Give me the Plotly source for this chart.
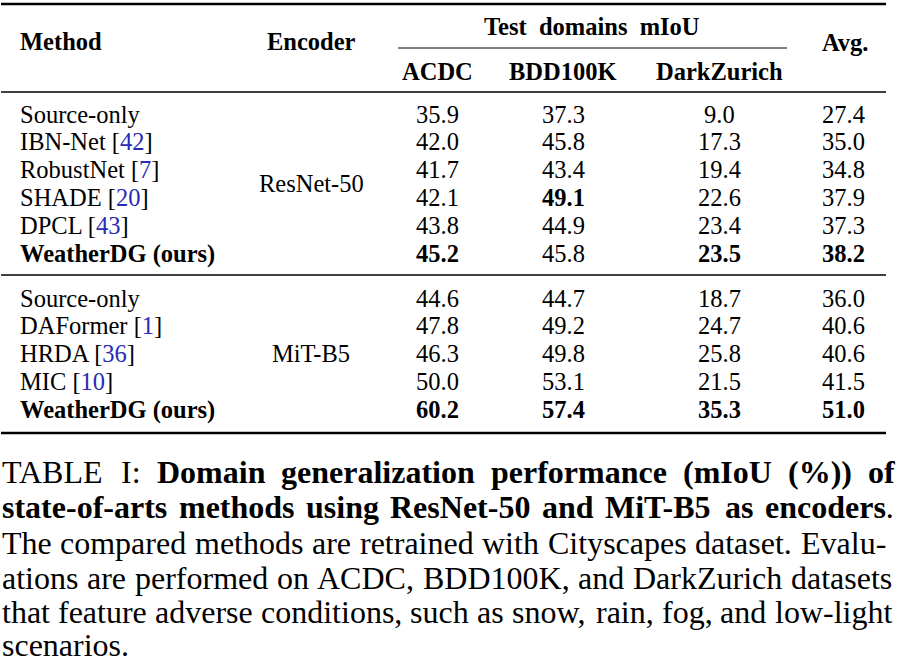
import plotly.graph_objects as go

# ---------------- data ----------------
columns = ["ACDC", "BDD100K", "DarkZurich"]

methods_resnet = ["Source-only", "IBN-Net", "RobustNet", "SHADE", "DPCL", "WeatherDG (ours)"]
cites_resnet = [None, "42", "7", "20", "43", None]
acdc_resnet = [35.9, 42.0, 41.7, 42.1, 43.8, 45.2]
bdd_resnet = [37.3, 45.8, 43.4, 49.1, 44.9, 45.8]
dz_resnet = [9.0, 17.3, 19.4, 22.6, 23.4, 23.5]
avg_resnet = [27.4, 35.0, 34.8, 37.9, 37.3, 38.2]

methods_mit = ["Source-only", "DAFormer", "HRDA", "MIC", "WeatherDG (ours)"]
cites_mit = [None, "1", "36", "10", None]
acdc_mit = [44.6, 47.8, 46.3, 50.0, 60.2]
bdd_mit = [44.7, 49.2, 49.8, 53.1, 57.4]
dz_mit = [18.7, 24.7, 25.8, 21.5, 35.3]
avg_mit = [36.0, 40.6, 40.6, 41.5, 51.0]

encoders = ["ResNet-50", "MiT-B5"]

# ---------------- style / layout ----------------
W, H = 897, 670
FONT = "Liberation Serif"
TS = 24.5        # table font size
CS = 32          # caption font size
CITE = "#2a2ab4"
PAD = 2          # annotation inner padding

col_x = [437, 563, 719, 843]
method_x = 20
enc_x = 311

g1_y0, g2_y0, row_step = 114, 298, 27.9

ann = []


def add(x, y, text, size=TS, anchor="center"):
    if anchor == "left":
        x = x - PAD
    elif anchor == "right":
        x = x + PAD
    ann.append(dict(x=x, y=y, xref="x", yref="y", text=text, showarrow=False,
                    xanchor=anchor, yanchor="middle",
                    font=dict(family=FONT, size=size, color="black")))


# header
add(method_x, 41, "<b>Method</b>", anchor="left")
add(enc_x, 41, "<b>Encoder</b>")
add(592, 26, "<b>Test  domains  mIoU</b>")
for cx, name in zip(col_x[:3], columns):
    add(cx, 71, f"<b>{name}</b>")
add(845, 42, "<b>Avg.</b>")


def group(methods, cites, cols, y0, enc):
    n = len(methods)
    maxes = [max(c) for c in cols]
    for i in range(n):
        y = y0 + i * row_step
        m = methods[i]
        if m.startswith("WeatherDG"):
            label = f"<b>{m}</b>"
        elif cites[i]:
            label = f"{m} [<span style='color:{CITE}'>{cites[i]}</span>]"
        else:
            label = m
        add(method_x, y, label, anchor="left")
        for cx, col, mx in zip(col_x, cols, maxes):
            v = f"{col[i]:.1f}"
            add(cx, y, f"<b>{v}</b>" if col[i] == mx else v)
    add(enc_x, y0 + (n - 1) * row_step / 2, enc)


group(methods_resnet, cites_resnet, [acdc_resnet, bdd_resnet, dz_resnet, avg_resnet], g1_y0, encoders[0])
group(methods_mit, cites_mit, [acdc_mit, bdd_mit, dz_mit, avg_mit], g2_y0, encoders[1])

# ---------------- caption (justified with Times metrics) ----------------
REG = dict(zip("abcdefghijklmnopqrstuvwxyz",
               [444, 500, 444, 500, 444, 333, 500, 500, 278, 278, 500, 278, 778,
                500, 500, 500, 500, 333, 389, 278, 500, 500, 722, 500, 500, 444]))
REG.update(zip("ABCDEFGHIJKLMNOPQRSTUVWXYZ",
               [722, 667, 667, 722, 611, 556, 722, 722, 333, 389, 722, 611, 889,
                722, 722, 556, 722, 667, 556, 611, 722, 722, 944, 722, 722, 611]))
REG.update({" ": 250, ",": 250, ".": 250, "-": 333, ":": 278, "(": 333, ")": 333, "%": 833})
BOLD = dict(zip("abcdefghijklmnopqrstuvwxyz",
                [500, 556, 444, 556, 444, 333, 500, 556, 278, 333, 556, 278, 833,
                 556, 500, 556, 556, 444, 389, 333, 556, 500, 722, 500, 500, 444]))
BOLD.update(zip("ABCDEFGHIJKLMNOPQRSTUVWXYZ",
                [722, 667, 722, 722, 667, 611, 778, 778, 389, 500, 778, 667, 944,
                 722, 778, 611, 778, 722, 556, 667, 722, 722, 1000, 722, 722, 667]))
BOLD.update({" ": 250, ",": 250, ".": 250, "-": 333, ":": 333, "(": 333, ")": 333, "%": 1000})


def R(s):
    return [[(w, False)] for w in s.split()]


def B(s):
    return [[(w, True)] for w in s.split()]


def seg_w(word):
    return sum((BOLD if b else REG).get(ch, 500) for t, b in word for ch in t) * CS / 1000


def seg_txt(word):
    return "".join(f"<b>{t}</b>" if b else t for t, b in word)


cap_lines = [
    R("TABLE I:") + B("Domain generalization performance (mIoU (%)) of"),
    B("state-of-arts methods using ResNet-50 and MiT-B5 as") + [[("encoders", True), (".", False)]],
    R("The compared methods are retrained with Cityscapes dataset. Evalu-"),
    R("ations are performed on ACDC, BDD100K, and DarkZurich datasets"),
    R("that feature adverse conditions, such as snow, rain, fog, and low-light"),
    R("scenarios."),
]
cap_y = [472, 507, 543, 578, 612, 645]
line_end = [895, 894, 886, 892, 892, None]
x_start = 2

for words, y, xe in zip(cap_lines, cap_y, line_end):
    if xe is None:
        add(x_start, y, " ".join(seg_txt(w) for w in words), size=CS, anchor="left")
        continue
    widths = [seg_w(w) for w in words]
    gap = (xe - x_start - sum(widths)) / (len(words) - 1)
    x = x_start
    for k, (w, wd) in enumerate(zip(words, widths)):
        if k == len(words) - 1:
            add(xe, y, seg_txt(w), size=CS, anchor="right")
        else:
            add(x, y, seg_txt(w), size=CS, anchor="left")
        x += wd + gap

# rules
shapes = []


def rule(x0, x1, y, w):
    shapes.append(dict(type="line", xref="x", yref="y", x0=x0, x1=x1, y0=y, y1=y,
                       line=dict(color="black", width=w)))


rule(1, 886, 4, 2.6)
rule(398, 787, 48, 1.0)
rule(1, 886, 92, 1.6)
rule(1, 886, 275, 1.6)
rule(1, 886, 433, 2.6)

fig = go.Figure(go.Scatter(x=[], y=[], mode="markers", showlegend=False))
fig.update_layout(
    width=W, height=H, margin=dict(l=0, r=0, t=0, b=0),
    paper_bgcolor="white", plot_bgcolor="white",
    xaxis=dict(range=[0, W], visible=False, fixedrange=True),
    yaxis=dict(range=[H, 0], visible=False, fixedrange=True),
    annotations=ann, shapes=shapes, showlegend=False,
)
fig.write_html(
    "out.html",
    config={"displayModeBar": False},
    post_script="document.body.style.margin='0';document.documentElement.style.overflow='hidden';",
)
